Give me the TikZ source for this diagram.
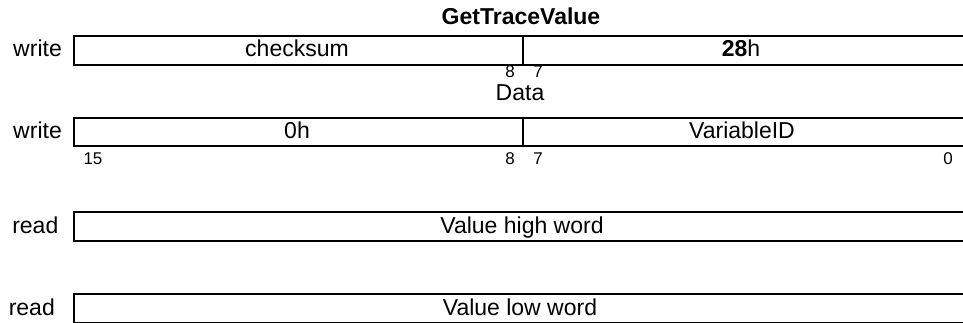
\documentclass[tikz,border=0pt]{standalone}
\usepackage{fontspec}
\setmainfont{Liberation Sans}
\begin{document}
\begin{tikzpicture}[x=1pt,y=-1pt,
  lbl/.style={font=\fontsize{23}{27}\selectfont, inner sep=0pt, anchor=base},
  rlbl/.style={lbl, anchor=base east},
  num/.style={font=\fontsize{17}{20}\selectfont, inner sep=0pt, anchor=base},
  field/.style={draw, line width=2pt, minimum height=29pt, inner sep=0pt, anchor=north west}]
\useasboundingbox (0,0) rectangle (963,323);
% title
\node[lbl, font=\fontsize{23}{27}\selectfont\bfseries] (title) at (521,25) {GetTraceValue};
% row 1
\node[rlbl] (w1) at (62,57) {write};
\node[field, minimum width=448.5pt] (cks) at (73,35) {};
\node[field, minimum width=445pt] (cmd) at (521.5,35) {};
\node[lbl] (cksT) at (297,57) {checksum};
\node[lbl] (cmdT) at (741,57) {\textbf{28}h};
\node[num] (n8a) at (510,78) {8};
\node[num] (n7a) at (538,78) {7};
\node[lbl] (data) at (520,101) {Data};
% row 2
\node[rlbl] (w2) at (62,139) {write};
\node[field, minimum width=448.5pt, minimum height=28pt] (zero) at (73,117) {};
\node[field, minimum width=445pt, minimum height=28pt] (vid) at (521.5,117) {};
\node[lbl] (zeroT) at (297,139) {0h};
\node[lbl] (vidT) at (742,139) {VariableID};
\node[num] (n15) at (93,165) {15};
\node[num] (n8b) at (510,165) {8};
\node[num] (n7b) at (538,165) {7};
\node[num] (n0) at (948,165) {0};
% row 3
\node[rlbl] (r1) at (58.5,233) {read};
\node[field, minimum width=893pt] (hi) at (73,211) {};
\node[lbl] (hiT) at (522,233) {Value high word};
% row 4
\node[rlbl] (r2) at (55,315) {read};
\node[field, minimum width=893pt] (lo) at (73,293) {};
\node[lbl] (loT) at (520,315) {Value low word};
\end{tikzpicture}
\end{document}
